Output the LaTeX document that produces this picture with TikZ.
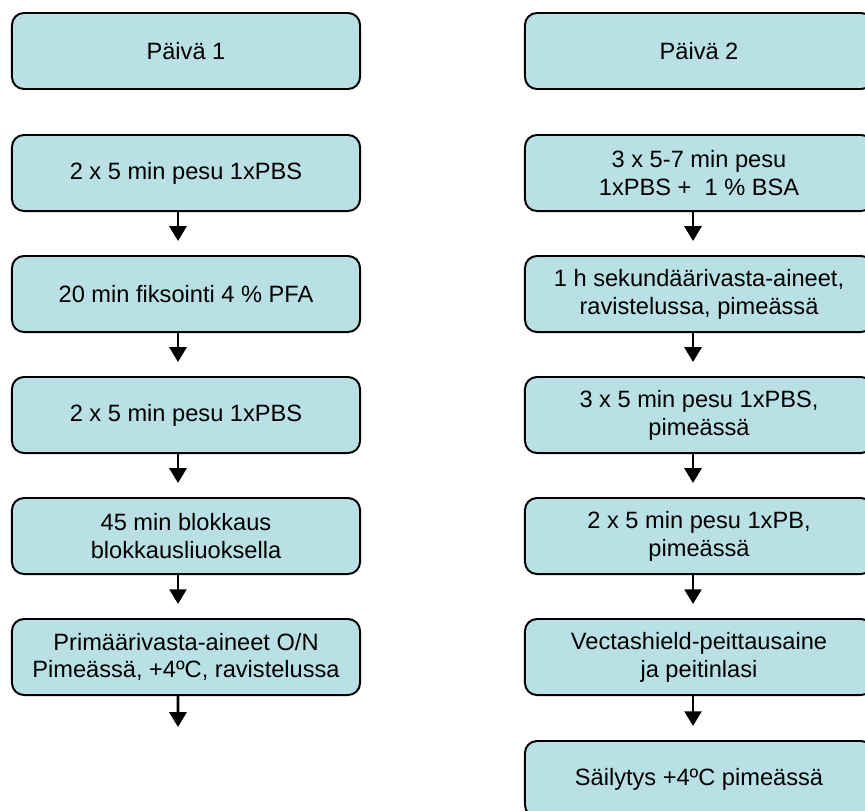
\documentclass[tikz,border=0pt]{standalone}
\usepackage{fontspec}
\setmainfont{Liberation Sans}
\usetikzlibrary{arrows.meta}
\definecolor{boxfill}{RGB}{185,224,228}
\begin{document}
\begin{tikzpicture}[x=0.025cm,y=-0.025cm]

        \useasboundingbox (0,0) rectangle (865,810);
        \clip (0,0) rectangle (865,810);

        \begin{scope}[every node/.style={draw=black,fill=boxfill,line width=1.4pt,
            rounded corners=0.3cm,minimum width=8.7cm,minimum height=1.9cm,
            align=center,font=\fontsize{16.8}{19.8}\selectfont,inner sep=0pt}]
          % day 1
          \node (p1) at (186,51)  {Päivä 1};
          \node (l1) at (186,173) {2 x 5 min pesu 1xPBS};
          \node (l2) at (186,294) {20 min fiksointi 4 \% PFA};
          \node (l3) at (186,415) {2 x 5 min pesu 1xPBS};
          \node (l4) at (186,536) {45 min blokkaus\\blokkausliuoksella};
          \node (l5) at (186,657) {Primäärivasta-aineet O/N\\Pimeässä, +4ºC, ravistelussa};
          % day 2
          \node (p2) at (699,51)  {Päivä 2};
          \node (r1) at (699,173) {3 x 5-7 min pesu\\1xPBS + \ 1 \% BSA};
          \node (r2) at (699,294) {1 h sekundäärivasta-aineet,\\ravistelussa, pimeässä};
          \node (r3) at (699,415) {3 x 5 min pesu 1xPBS,\\pimeässä};
          \node (r4) at (699,536) {2 x 5 min pesu 1xPB,\\pimeässä};
          \node (r5) at (699,657) {Vectashield-peittausaine\\ja peitinlasi};
          \node (r6) at (699,779) {Säilytys +4ºC pimeässä};
        \end{scope}

        \coordinate (lend) at (178,741);

        \begin{scope}[every edge/.style={draw,line width=2.1pt,shorten >=0.35cm,
            -{Triangle[width=12pt,length=10.5pt]}}]
          \path ([xshift=-0.2cm]l1.south) edge ([xshift=-0.2cm]l2.north);
          \path ([xshift=-0.2cm]l2.south) edge ([xshift=-0.2cm]l3.north);
          \path ([xshift=-0.2cm]l3.south) edge ([xshift=-0.2cm]l4.north);
          \path ([xshift=-0.2cm]l4.south) edge ([xshift=-0.2cm]l5.north);
          \path ([xshift=-0.2cm]l5.south) edge (lend);
          \path ([xshift=-0.15cm]r1.south) edge ([xshift=-0.15cm]r2.north);
          \path ([xshift=-0.15cm]r2.south) edge ([xshift=-0.15cm]r3.north);
          \path ([xshift=-0.15cm]r3.south) edge ([xshift=-0.15cm]r4.north);
          \path ([xshift=-0.15cm]r4.south) edge ([xshift=-0.15cm]r5.north);
          \path ([xshift=-0.15cm]r5.south) edge ([xshift=-0.15cm]r6.north);
        \end{scope}

      \end{tikzpicture}
\end{document}
